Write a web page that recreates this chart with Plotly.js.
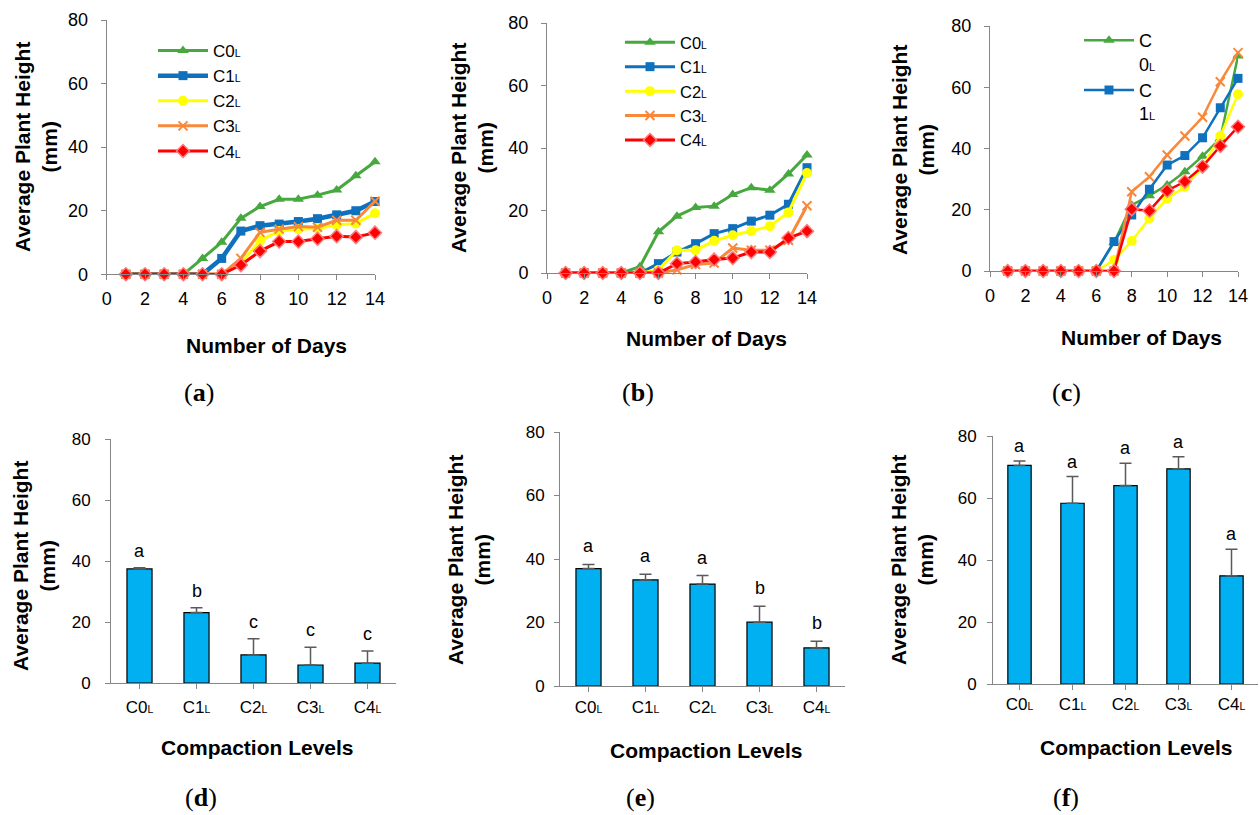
<!DOCTYPE html>
<html><head><meta charset="utf-8">
<script src="https://cdn.plot.ly/plotly-3.0.1.min.js"></script>
<style>html,body{margin:0;padding:0;background:#fff}#chart{width:1260px;height:815px}</style>
</head><body><div id="chart"></div>
<script>
// ---------- data ----------
const days = [1,2,3,4,5,6,7,8,9,10,11,12,13,14];
const SUB = s => '<span style="font-size:0.62em">'+s+'</span>';
const seriesNames = ['C0'+SUB('L'),'C1'+SUB('L'),'C2'+SUB('L'),'C3'+SUB('L'),'C4'+SUB('L')];
const seriesNamesWrapped = ['C<br>0'+SUB('L'),'C<br>1'+SUB('L'),'C<br>2'+SUB('L'),'C<br>3'+SUB('L'),'C<br>4'+SUB('L')];

// (a)
const a_C0 = [0,0,0,0,5.0,10.1,17.6,21.3,23.6,23.6,24.9,26.5,31.0,35.4];
const a_C1 = [0,0,0,0,0,5.0,13.6,15.3,15.8,16.6,17.5,18.7,20.0,22.9];
const a_C2 = [0,0,0,0,0,0,3.5,10.6,13.6,14.2,14.4,15.5,16.0,19.2];
const a_C3 = [0,0,0,0,0,0,5.0,13.2,14.2,15.0,14.8,17.0,17.0,23.0];
const a_C4 = [0,0,0,0,0,0,2.9,7.3,10.3,10.3,11.2,12.0,11.7,13.1];
// (b)
const b_C0 = [0,0,0,0,2.0,13.2,18.2,21.0,21.4,25.1,27.3,26.5,31.7,37.8];
const b_C1 = [0,0,0,0,0,3.0,6.7,9.4,12.6,14.2,16.6,18.5,22.0,33.7];
const b_C2 = [0,0,0,0,0,1.0,7.3,7.3,10.3,12.1,13.4,15.0,19.4,32.0];
const b_C3 = [0,0,0,0,0,0,1.0,2.7,3.2,8.0,7.3,7.3,10.5,21.5];
const b_C4 = [0,0,0,0,0,0,3.0,3.5,4.3,4.8,6.7,6.7,11.2,13.4];
// (c)
const c_C0 = [0,0,0,0,0,0,9.3,21.5,24.6,28.1,32.4,37.5,43.3,70.2];
const c_C1 = [0,0,0,0,0,0,9.6,18.3,26.7,34.6,37.7,43.5,53.3,62.9];
const c_C2 = [0,0,0,0,0,0,3.6,9.8,17.2,23.7,27.5,34.0,44.1,57.7];
const c_C3 = [0,0,0,0,0,0,0,25.9,30.8,37.9,44.1,50.2,61.8,71.3];
const c_C4 = [0,0,0,0,0,0,0,20.2,19.7,26.2,29.2,34.1,40.8,47.1];

// bar panels
const categories = ['C0'+SUB('L'),'C1'+SUB('L'),'C2'+SUB('L'),'C3'+SUB('L'),'C4'+SUB('L')];
const d_mean = [37.4, 23.1, 9.2, 5.9, 6.5];
const d_err  = [0.4, 1.6, 5.3, 5.8, 4.0];
const d_letters = ['a','b','c','c','c'];
const e_mean = [37.0, 33.4, 32.1, 20.1, 12.0];
const e_err  = [1.3, 1.8, 2.7, 5.0, 2.1];
const e_letters = ['a','a','a','b','b'];
const f_mean = [70.5, 58.3, 64.0, 69.4, 34.9];
const f_err  = [1.4, 8.6, 7.2, 3.9, 8.6];
const f_letters = ['a','a','a','a','a'];

const yTicks = [0,20,40,60,80];
const xTicks = [0,2,4,6,8,10,12,14];
const panelLabels = ['a','b','c','d','e','f'];
const yTitle = 'Average Plant Height<br>(mm)';
const xTitleLine = 'Number of Days';
const xTitleBar = 'Compaction Levels';

// ---------- styles ----------
const FONT = 'Liberation Sans, Arial, sans-serif';
const colors = ['#46A83F','#0F70BE','#FFFF00','#F8883A','#FF0000'];
function markerFor(i, s){
  const m = [
    {symbol:'triangle-up', size:s+1, color:colors[0]},
    {symbol:'square', size:s, color:colors[1]},
    {symbol:'circle', size:s+1, color:colors[2]},
    {symbol:'x-thin', size:s, color:colors[3], line:{color:colors[3], width:2}},
    {symbol:'diamond', size:s+1, color:colors[4], line:{color:'#FF7A7A', width:1.5}}
  ];
  return m[i];
}

const traces = [];
function addLines(sets, xa, ya, legendId, names, showIdx, widths, ms){
  sets.forEach((ys,i)=>{
    traces.push({
      type:'scatter', mode:'lines+markers', x:days, y:ys,
      xaxis:xa, yaxis:ya, name:names[i], legend:legendId,
      showlegend: showIdx.includes(i),
      line:{color:colors[i], width:widths[i]},
      marker:markerFor(i, ms), cliponaxis:false
    });
  });
}
addLines([a_C0,a_C1,a_C2,a_C3,a_C4],'x','y','legend',seriesNames,[0,1,2,3,4],[3,4.5,3,3,3],9);
addLines([b_C0,b_C1,b_C2,b_C3,b_C4],'x2','y2','legend2',seriesNames,[0,1,2,3,4],[3,3,3,3,3],9);
addLines([c_C0,c_C1,c_C2,c_C3,c_C4],'x3','y3','legend3',seriesNamesWrapped,[0,1],[2.5,2.5,2.5,2.5,2.5],9);

const annotations = [];
function addBars(means, errs, letters, xa, ya, shift){
  traces.push({
    type:'bar', x:categories, y:means, xaxis:xa, yaxis:ya, showlegend:false,
    width:0.44,
    marker:{color:'#00B0F0', line:{color:'#000000', width:1.2}},
    error_y:{type:'data', symmetric:false, array:errs, arrayminus:errs.map(()=>0),
             color:'#5a5a5a', thickness:1.5, width:6}
  });
  letters.forEach((t,i)=>{
    annotations.push({xref:xa, yref:ya, x:categories[i], y:means[i]+errs[i], text:t,
      showarrow:false, yanchor:'bottom', yshift:shift,
      font:{family:FONT, size:18, color:'#000'}});
  });
}
addBars(d_mean,d_err,d_letters,'x4','y4',5);
addBars(e_mean,e_err,e_letters,'x5','y5',6);
addBars(f_mean,f_err,f_letters,'x6','y6',3);

const W=1260, H=815;
const px = x => x/W, py = y => 1-y/H;

// panel labels
const labelPos = [[199,392],[638,392],[1066,392],[201,797],[640,797],[1066,797]];
panelLabels.forEach((p,i)=>{
  annotations.push({xref:'paper', yref:'paper', x:px(labelPos[i][0]), y:py(labelPos[i][1]),
    text:'(<b>'+p+'</b>)', showarrow:false, xanchor:'center', yanchor:'middle',
    font:{family:'Liberation Serif, DejaVu Serif, serif', size:26, color:'#000'}});
});
// axis titles
const TF = {family:FONT, size:21, weight:'bold', color:'#000'};
const xTitlePos = [[xTitleLine,266,345],[xTitleLine,706,338],[xTitleLine,1141,337],
                   [xTitleBar,257,747],[xTitleBar,706,750],[xTitleBar,1136,747]];
xTitlePos.forEach(([t,x,y])=>{
  annotations.push({xref:'paper', yref:'paper', x:px(x), y:py(y), text:t, showarrow:false,
    xanchor:'center', yanchor:'middle', font:TF});
});
const yTitlePos = [[36,147],[472,148],[913,150],[34,566],[469,560],[912,560]];
yTitlePos.forEach(([x,y])=>{
  annotations.push({xref:'paper', yref:'paper', x:px(x), y:py(y), text:yTitle, showarrow:false,
    textangle:-90, xanchor:'center', yanchor:'middle', font:TF});
});

function dx(l,r){return [l/W, r/W];}
function dy(t,b){return [1-b/H, 1-t/H];}
const AX = '#868686';
function lineX(domain, anchor, so){
  return {domain, anchor, range:[0,14], tickvals:xTicks, showgrid:false, zeroline:false,
    showline:true, linecolor:AX, linewidth:1, ticks:'outside', ticklen:5, tickcolor:AX,
    ticklabelstandoff:so,
    tickfont:{family:FONT, size:18, color:'#000'}};
}
function anyY(domain, anchor, fs, so){
  return {domain, anchor, range:[0,80], tickvals:yTicks, showgrid:false, zeroline:false,
    showline:true, linecolor:AX, linewidth:1, ticks:'outside', ticklen:5, tickcolor:AX,
    ticklabelstandoff:so,
    tickfont:{family:FONT, size:fs, color:'#000'}};
}
function barX(domain, anchor, so){
  return {domain, anchor, type:'category', range:[-0.5,4.5], showgrid:false, zeroline:false,
    showline:true, linecolor:AX, linewidth:1, ticks:'outside', ticklen:5, tickcolor:AX,
    ticklabelstandoff:so,
    tickfont:{family:FONT, size:17, color:'#000'}};
}

const legendBase = {bgcolor:'rgba(0,0,0,0)', borderwidth:0, xanchor:'left', yanchor:'top',
  itemwidth:50, tracegroupgap:0, traceorder:'normal'};

const layout = {
  width:W, height:H, margin:{l:0,r:0,t:0,b:0}, paper_bgcolor:'#fff', plot_bgcolor:'rgba(0,0,0,0)',
  showlegend:true,
  legend:Object.assign({}, legendBase, {x:px(153), y:py(33), font:{family:FONT, size:17, color:'#000'}}),
  legend2:Object.assign({}, legendBase, {x:px(620), y:py(25), font:{family:FONT, size:16.5, color:'#000'}}),
  legend3:Object.assign({}, legendBase, {x:px(1079), y:py(22), valign:'top', font:{family:FONT, size:18, color:'#000'}}),
  xaxis: lineX(dx(106.7,375),'y',3),
  yaxis: anyY(dy(20,274.3),'x',18,9),
  xaxis2: lineX(dx(547,807),'y2',3),
  yaxis2: anyY(dy(23,273),'x2',18,9),
  xaxis3: lineX(dx(990,1238),'y3',3),
  yaxis3: anyY(dy(26,271),'x3',18,9),
  xaxis4: barX(dx(111,396),'y4',4),
  yaxis4: anyY(dy(439,683),'x4',17,11),
  xaxis5: barX(dx(560,845),'y5',1),
  yaxis5: anyY(dy(432,686),'x5',17,6),
  xaxis6: barX(dx(993,1258),'y6',0),
  yaxis6: anyY(dy(436,684),'x6',17,7),
  annotations
};
Plotly.newPlot('chart', traces, layout, {staticPlot:true, displayModeBar:false});
</script></body></html>
